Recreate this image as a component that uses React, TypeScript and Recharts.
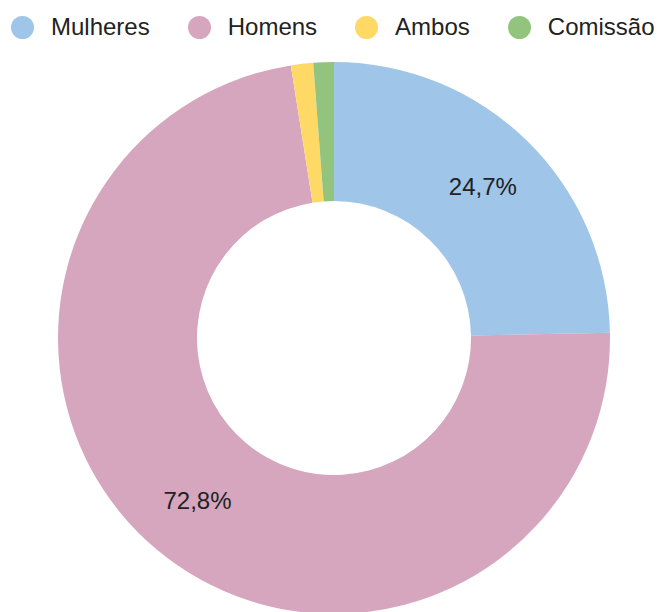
import React from "react";
import { PieChart, Pie, Cell } from "recharts";

// share of each group, in percent
const categories = ["Mulheres", "Homens", "Ambos", "Comissão"];
const shares = [24.7, 72.8, 1.3, 1.2];
const colors = ["#9fc5e8", "#d5a6bd", "#ffd966", "#93c47d"];

const data = categories.map((name, i) => ({ name, value: shares[i] }));

const RADIAN = Math.PI / 180;
const FONT = "'Liberation Sans', Arial, sans-serif";

const renderLabel = (props: any) => {
  const { cx, cy, midAngle, innerRadius, outerRadius, value } = props;
  if (value < 5) return null;
  const r = (innerRadius + outerRadius) / 2 + 6;
  const x = cx + r * Math.cos(-midAngle * RADIAN);
  const y = cy + r * Math.sin(-midAngle * RADIAN);
  return (
    <text
      x={x}
      y={y}
      fill="#222222"
      fontSize={24}
      fontFamily={FONT}
      textAnchor="middle"
      dominantBaseline="central">
      {value.toFixed(1).replace(".", ",")}%
    </text>
  );
};

function ChartLegend() {
  return (
    <div
      style={{
        position: "absolute",
        top: 0,
        left: 11,
        height: 54,
        display: "flex",
        alignItems: "center",
        fontFamily: FONT,
        fontSize: 24,
        color: "#222222",
        whiteSpace: "nowrap",
      }}>
      {categories.map((name, i) => (
        <div
          key={name}
          style={{ display: "flex", alignItems: "center", marginRight: 38 }}>
          <span
            style={{
              width: 23,
              height: 23,
              borderRadius: "50%",
              background: colors[i],
              marginRight: 17,
              display: "inline-block",
            }}
          />
          <span>{name}</span>
        </div>
      ))}
    </div>
  );
}

export default function App() {
  return (
    <div
      style={{
        position: "absolute",
        top: 0,
        left: 0,
        width: 662,
        height: 612,
        background: "#ffffff",
        overflow: "hidden",
      }}>
      <PieChart
        width={662}
        height={612}
        margin={{ top: 0, right: 0, bottom: 0, left: 0 }}>
        <Pie
          data={data}
          dataKey="value"
          nameKey="name"
          cx={334}
          cy={338}
          innerRadius={137}
          outerRadius={276}
          startAngle={90}
          endAngle={-270}
          stroke="none"
          label={renderLabel}
          labelLine={false}
          isAnimationActive={false}>
          {data.map((entry, index) => (
            <Cell
              key={`cell-${index}`}
              fill={colors[index]}
            />
          ))}
        </Pie>
      </PieChart>
      <ChartLegend />
    </div>
  );
}
